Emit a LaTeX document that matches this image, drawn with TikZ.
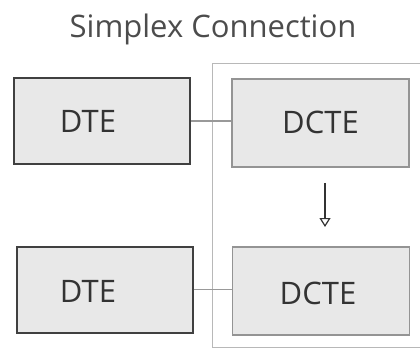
\documentclass[tikz,border=0pt]{standalone}
\usepackage{fontspec}
\setmainfont{Open Sans}
\usetikzlibrary{arrows.meta}
\begin{document}
\begin{tikzpicture}[x=1pt,y=1pt,
  dtebox/.style={draw=black!75,line width=2pt,fill=black!9,minimum width=176pt,minimum height=86pt,inner sep=0pt},
  dctebox/.style={draw=black!42,line width=1.1pt,fill=black!9,minimum width=177pt,minimum height=88pt,inner sep=0pt},
  link/.style={draw=black!40,line width=1.3pt},
  lbl/.style={font=\fontsize{31}{31}\selectfont,text=black!80}]
\useasboundingbox (0,0) rectangle (420,351);
% title
\node[lbl,text=black!70] (title) at (213,322) {Simplex Connection};
% light frame around the DCTE side
\draw[black!28,line width=0.9pt] (430,288) -- (212,288) -- (212,4) -- (430,4);
% boxes
\node[dtebox] (dte1) at (102,230) {};
\node[lbl] at (88,230) {DTE};
\node[dctebox] (dcte1) at (320.5,228) {};
\node[lbl] at (320.5,229) {DCTE};
\node[dtebox] (dte2) at (104.5,61.5) {};
\node[lbl] at (88,60) {DTE};
\node[dctebox] (dcte2) at (321,60) {};
\node[lbl] at (318,58) {DCTE};
% connectors
\draw[link] (dte1.east) -- (dte1.east -| dcte1.west);
\draw[link] (dte2.east) -- (dte2.east -| dcte2.west);
\coordinate (a1) at (325,168);
\coordinate (a2) at (325,124);
\draw[black!80,line width=1.2pt,-{Triangle[open,length=9pt,width=11pt,line width=1.2pt]}] (a1) -- (a2);
\end{tikzpicture}
\end{document}
